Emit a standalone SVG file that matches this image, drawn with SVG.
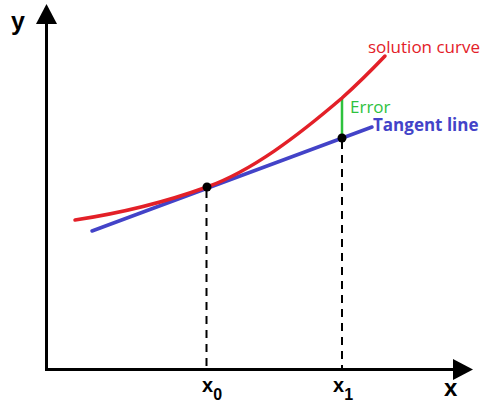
<svg xmlns="http://www.w3.org/2000/svg" width="488" height="405" viewBox="0 0 488 405">
<style>
.axis{stroke:#000;stroke-width:3;fill:none}
.dash{stroke:#000;stroke-width:2;stroke-dasharray:8 6;fill:none}
.curve{stroke:#e32028;stroke-width:3.5;fill:none;stroke-linecap:round}
.tan{stroke:#4343c8;stroke-width:3.5;fill:none;stroke-linecap:round}
.err{stroke:#2ec23e;stroke-width:2.5}
.lbl{font-family:"Open Sans","DejaVu Sans",sans-serif;font-size:17px}
.axl{font-family:"Liberation Sans",Arial,sans-serif;font-weight:bold}
</style>
<rect width="488" height="405" fill="#fff"/>
<g id="axes">
<path class="axis" d="M46.5 22 V369.5 H455"/>
<polygon points="46.5,4 36,24 57,24" fill="#000"/>
<polygon points="473,369.5 453,359 453,380" fill="#000"/>
<text class="axl" x="11" y="30" font-size="25">y</text>
<text class="axl" x="444" y="396" font-size="24">x</text>
</g>
<g id="connectors">
<path class="dash" d="M206.5 190 V369"/>
<path class="dash" d="M342 141 V369"/>
<line class="err" x1="342" y1="99" x2="342" y2="137"/>
</g>
<g id="tangent-line">
<path class="tan" d="M92 231 L372 127"/>
<text class="lbl" x="373" y="131" fill="#4343c8" font-weight="bold" font-size="17.5">Tangent line</text>
</g>
<g id="solution-curve">
<path class="curve" d="M75 220 C119 213.4 163 203 207 187 C252 170.7 297 136.5 342 98 C356 85.4 371 70.7 385 56"/>
<text class="lbl" x="368" y="53" fill="#e32028">solution curve</text>
</g>
<g id="error">
<text class="lbl" x="350" y="113" fill="#2ec23e">Error</text>
</g>
<g id="x0">
<circle cx="207" cy="187" r="4.5" fill="#000"/>
<text class="axl" x="202" y="392" font-size="20">x<tspan font-size="16" dy="8">0</tspan></text>
</g>
<g id="x1">
<circle cx="342" cy="138" r="4.5" fill="#000"/>
<text class="axl" x="333" y="392" font-size="20">x<tspan font-size="16" dy="8">1</tspan></text>
</g>
</svg>
